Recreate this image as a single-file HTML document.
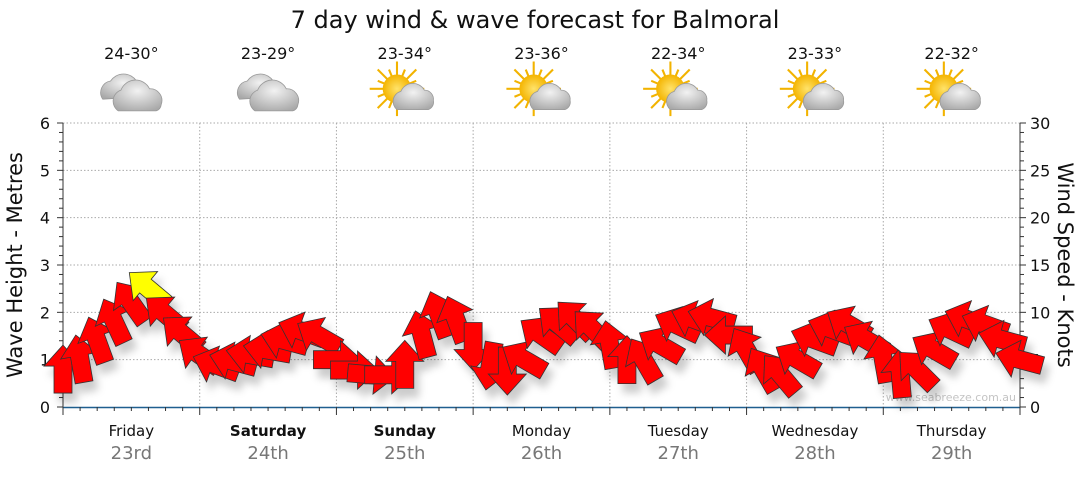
<!DOCTYPE html>
<html><head><meta charset="utf-8"><style>
body{margin:0;background:#fff;font-family:"Liberation Sans",sans-serif;}
svg text{font-family:"DejaVu Sans","Liberation Sans",sans-serif;}
</style></head><body>
<svg id="c" width="1080" height="475" viewBox="0 0 1080 475" xmlns="http://www.w3.org/2000/svg">
<defs>
<filter id="sh" x="-50%" y="-50%" width="200%" height="200%"><feDropShadow dx="5" dy="9" stdDeviation="4" flood-color="#000" flood-opacity="0.2"/></filter>
<radialGradient id="cg" cx="50%" cy="35%" r="70%"><stop offset="0" stop-color="#f2f2f2"/><stop offset="1" stop-color="#a9a9a9"/></radialGradient>
<radialGradient id="sg" cx="50%" cy="50%" r="50%"><stop offset="0" stop-color="#ffe36b"/><stop offset="1" stop-color="#f4b400"/></radialGradient>
</defs>
<text x="535" y="28" font-size="24" text-anchor="middle" fill="#111">7 day wind &amp; wave forecast for Balmoral</text>
<g id="grid"></g>
<g id="axes"></g>
<g id="days"></g>
<text x="1016" y="401" font-size="11" text-anchor="end" fill="#c4c4c4">www.seabreeze.com.au</text>
<g id="arrows" filter="url(#sh)"></g>
<text transform="translate(22,265) rotate(-90)" font-size="21" text-anchor="middle" fill="#111">Wave Height - Metres</text>
<text transform="translate(1058,265) rotate(90)" font-size="21" text-anchor="middle" fill="#111">Wind Speed - Knots</text>
</svg>
<script>
const dayNames=["Friday","Saturday","Sunday","Monday","Tuesday","Wednesday","Thursday"];
const dayDates=["23rd","24th","25th","26th","27th","28th","29th"];
const temps=["24-30°","23-29°","23-34°","23-36°","22-34°","23-33°","22-32°"];
const icons=["cloud","cloud","sun","sun","sun","sun","sun"];
const waveTicks=[0,1,2,3,4,5,6];
const windTicks=[0,5,10,15,20,25,30];
// wind speed (knots) every 3 hours from Friday 00:00
const windSpeed=[3.9,5,7,9,11,12.5,9.8,7.7,5.5,4.4,4.8,5.5,6,7,8,7.5,5,3.9,3.4,3.4,4.4,7.6,9.7,9.2,6.5,4.4,3.9,5,7.6,8.7,9.2,8.2,6.5,4.9,4.9,6.5,8.6,9.2,9.4,7.6,6,3.9,3.4,5,7.1,8.2,8.7,7.1,5,3.4,3.9,6,8.1,9.2,8.7,7.1,5];
// wind direction arrow points to (degrees clockwise from up)
const windDir=[0,-10,-20,-25,-35,-50,-50,-50,-55,-70,-75,-80,-80,-75,-70,-60,90,90,95,90,0,-15,-20,-20,180,190,180,-60,-55,-50,-45,-45,-10,0,-30,-60,-65,-70,-75,-90,-30,-30,-40,-60,-70,-70,-60,-60,-10,-5,-45,-60,-65,-70,-70,-75,-75];
const warnThreshold=12.3;

const svg=document.getElementById('c');
const NS="http://www.w3.org/2000/svg";
const X0=63,X1=1020,Y0=407,YT=123;
const dayW=(X1-X0)/7;
const xScale=h=>X0+h/24*dayW;
const yWave=m=>Y0-(Y0-YT)*m/6;
const yWind=k=>Y0-(Y0-YT)*k/30;
function mk(tag,attrs,parent){const e=document.createElementNS(NS,tag);for(const k in attrs)e.setAttribute(k,attrs[k]);parent.appendChild(e);return e;}
const grid=document.getElementById('grid'),axes=document.getElementById('axes'),days=document.getElementById('days'),arr=document.getElementById('arrows');
waveTicks.forEach((t,i)=>{
  if(t>0){const l=mk('line',{x1:X0,x2:X1,y1:yWave(t),y2:yWave(t),stroke:'#aaa','stroke-dasharray':'1.5,2'},grid);
  
  }
  const tx=mk('text',{x:50,y:yWave(t)+6,'font-size':16,'text-anchor':'end',fill:'#111'},axes);tx.textContent=t;
  
  
});
for(let i=0;i<=30;i++){const y=Y0-(Y0-YT)*i/30;mk('line',{x1:X0-(i%5?4:6),x2:X0,y1:y,y2:y,stroke:'#333'},axes);mk('line',{x1:X1,x2:X1+(i%5?4:6),y1:y,y2:y,stroke:'#333'},axes);}
windTicks.forEach(t=>{const tx=mk('text',{x:1030,y:yWind(t)+6,'font-size':16,fill:'#111'},axes);tx.textContent=t;
  
  });
mk('line',{x1:X0,x2:X0,y1:YT,y2:Y0,stroke:'#333'},axes);
mk('line',{x1:X1,x2:X1,y1:YT,y2:Y0,stroke:'#333'},axes);
mk('line',{x1:X0,x2:X1,y1:Y0+0.5,y2:Y0+0.5,stroke:'#1f5f8f','stroke-width':1.5},axes);
for(let h=0;h<=168;h+=3){const x=xScale(h);mk('line',{x1:x,x2:x,y1:Y0,y2:Y0+(h%24?4:8),stroke:'#333'},axes);}
dayNames.forEach((d,i)=>{
  const cx=xScale(i*24+12);
  if(i>0){const l=mk('line',{x1:xScale(i*24),x2:xScale(i*24),y1:YT,y2:Y0,stroke:'#aaa','stroke-dasharray':'1.5,2'},grid);
  
  }
  const n=mk('text',{x:cx,y:436,'font-size':15,'text-anchor':'middle',fill:'#111','font-weight':(i==1||i==2)?'bold':'normal'},days);n.textContent=d;
  
  
  const dt=mk('text',{x:cx,y:459,'font-size':18,'text-anchor':'middle',fill:'#777'},days);dt.textContent=dayDates[i];
  
  
  const tp=mk('text',{x:cx,y:59,'font-size':16,'text-anchor':'middle',fill:'#111'},days);tp.textContent=temps[i];
  
  
  const g=mk('g',{transform:`translate(${cx},94) scale(1.3)`},days);
  
  
  if(icons[i]=='cloud'){
    mk('path',{d:'M-22,4 a9,9 0 0 1 6,-14 a12,12 0 0 1 20,0 a8,8 0 0 1 6,12 z',fill:'url(#cg)',stroke:'#999','stroke-width':0.6},g);
    mk('path',{d:'M-10,13 a9,9 0 0 1 2,-16 a12,12 0 0 1 22,-1 a9,9 0 0 1 9,12 a6,6 0 0 1 -4,5 z',fill:'url(#cg)',stroke:'#999','stroke-width':0.6},g);
  }else{
    for(let a=0;a<360;a+=22.5){const r=a*Math.PI/180;mk('line',{x1:-6+Math.cos(r)*10,y1:-4+Math.sin(r)*10,x2:-6+Math.cos(r)*(a%45?16:21),y2:-4+Math.sin(r)*(a%45?16:21),stroke:'#f2b300','stroke-width':1.6},g);}
    mk('circle',{cx:-6,cy:-4,r:11,fill:'url(#sg)'},g);
    mk('path',{d:'M-6,12 a8,8 0 0 1 3,-14 a10,10 0 0 1 18,-1 a7,7 0 0 1 7,8 a6,6 0 0 1 -4,7 z',fill:'url(#cg)',stroke:'#999','stroke-width':0.6},g);
  }
});
windSpeed.forEach((v,i)=>{
  const x=xScale(i*3),y=yWind(v);
  const p=mk('polygon',{points:'0,-25 -19,-4 -9,-4 -9,23 9,23 9,-4 19,-4',fill:v>=warnThreshold?'#ffff00':'#ff0000',stroke:'#333','stroke-width':0.8,transform:`translate(${x},${y}) rotate(${windDir[i]})`},arr);
  
  
});
</script>
</body></html>
